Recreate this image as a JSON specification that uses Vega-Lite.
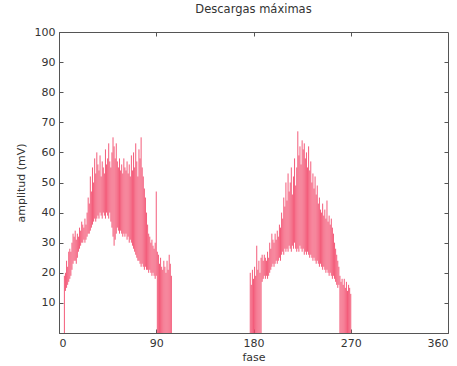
{
  "$schema": "https://vega.github.io/schema/vega-lite/v6.json",
  "width": 389,
  "height": 301,
  "autosize": {"type": "none"},
  "padding": {"left": 59, "top": 32, "right": 9, "bottom": 33},
  "background": "white",
  "title": {"text": "Descargas máximas", "fontSize": 11.5, "fontWeight": "normal", "font": "DejaVu Sans", "color": "#333", "offset": 11},
  "config": {
    "view": {"stroke": "#555", "strokeWidth": 1},
    "axis": {"grid": false, "domainColor": "#555", "tickColor": "#555", "labelColor": "#333", "titleColor": "#333", "labelFont": "DejaVu Sans", "titleFont": "DejaVu Sans", "labelFontSize": 11, "titleFontSize": 11, "titleFontWeight": "normal", "tickSize": -4}
  },
  "data": {"values": [
    {"p":5,"lo":0,"hi":19},{"p":6,"lo":14,"hi":20},{"p":7,"lo":15,"hi":24},{"p":8,"lo":16,"hi":22},{"p":9,"lo":17,"hi":27},{"p":10,"lo":18,"hi":28},
    {"p":11,"lo":19,"hi":27},{"p":12,"lo":21,"hi":30},{"p":13,"lo":23,"hi":33},{"p":14,"lo":24,"hi":32},{"p":15,"lo":24,"hi":34},{"p":16,"lo":23,"hi":31},
    {"p":17,"lo":25,"hi":33},{"p":18,"lo":27,"hi":32},{"p":19,"lo":28,"hi":35},{"p":20,"lo":29,"hi":34},{"p":21,"lo":30,"hi":37},{"p":22,"lo":30,"hi":36},
    {"p":23,"lo":31,"hi":35},{"p":24,"lo":30,"hi":38},{"p":25,"lo":31,"hi":36},{"p":26,"lo":32,"hi":40},{"p":27,"lo":33,"hi":45},{"p":28,"lo":33,"hi":43},
    {"p":29,"lo":34,"hi":52},{"p":30,"lo":35,"hi":47},{"p":31,"lo":36,"hi":55},{"p":32,"lo":37,"hi":50},{"p":33,"lo":38,"hi":58},{"p":34,"lo":37,"hi":53},
    {"p":35,"lo":38,"hi":60},{"p":36,"lo":39,"hi":56},{"p":37,"lo":38,"hi":54},{"p":38,"lo":40,"hi":59},{"p":39,"lo":39,"hi":52},{"p":40,"lo":38,"hi":57},
    {"p":41,"lo":40,"hi":55},{"p":42,"lo":39,"hi":53},{"p":43,"lo":38,"hi":61},{"p":44,"lo":40,"hi":56},{"p":45,"lo":39,"hi":58},{"p":46,"lo":38,"hi":63},
    {"p":47,"lo":40,"hi":57},{"p":48,"lo":37,"hi":55},{"p":49,"lo":35,"hi":60},{"p":50,"lo":32,"hi":65},{"p":51,"lo":29,"hi":62},{"p":52,"lo":31,"hi":58},
    {"p":53,"lo":33,"hi":63},{"p":54,"lo":35,"hi":57},{"p":55,"lo":34,"hi":55},{"p":56,"lo":33,"hi":58},{"p":57,"lo":34,"hi":54},{"p":58,"lo":33,"hi":56},
    {"p":59,"lo":32,"hi":53},{"p":60,"lo":33,"hi":58},{"p":61,"lo":32,"hi":55},{"p":62,"lo":33,"hi":54},{"p":63,"lo":31,"hi":57},{"p":64,"lo":32,"hi":53},
    {"p":65,"lo":30,"hi":56},{"p":66,"lo":31,"hi":52},{"p":67,"lo":30,"hi":59},{"p":68,"lo":29,"hi":54},{"p":69,"lo":28,"hi":60},{"p":70,"lo":27,"hi":55},
    {"p":71,"lo":26,"hi":63},{"p":72,"lo":25,"hi":57},{"p":73,"lo":24,"hi":52},{"p":74,"lo":24,"hi":61},{"p":75,"lo":23,"hi":58},{"p":76,"lo":22,"hi":65},
    {"p":77,"lo":23,"hi":55},{"p":78,"lo":22,"hi":52},{"p":79,"lo":21,"hi":48},{"p":80,"lo":22,"hi":45},{"p":81,"lo":21,"hi":40},{"p":82,"lo":21,"hi":36},
    {"p":83,"lo":20,"hi":33},{"p":84,"lo":21,"hi":32},{"p":85,"lo":20,"hi":30},{"p":86,"lo":19,"hi":31},{"p":87,"lo":20,"hi":29},{"p":88,"lo":19,"hi":28},
    {"p":89,"lo":18,"hi":30},{"p":90,"lo":19,"hi":47},{"p":91,"lo":0,"hi":27},{"p":92,"lo":0,"hi":26},{"p":93,"lo":0,"hi":23},{"p":94,"lo":0,"hi":25},
    {"p":95,"lo":0,"hi":22},{"p":96,"lo":0,"hi":21},{"p":97,"lo":0,"hi":24},{"p":98,"lo":0,"hi":22},{"p":99,"lo":0,"hi":20},{"p":100,"lo":0,"hi":24},
    {"p":101,"lo":0,"hi":21},{"p":102,"lo":0,"hi":26},{"p":103,"lo":0,"hi":23},{"p":104,"lo":0,"hi":19},
    {"p":177,"lo":0,"hi":20},{"p":178,"lo":0,"hi":16},{"p":179,"lo":0,"hi":21},{"p":180,"lo":0,"hi":18},{"p":181,"lo":0,"hi":22},{"p":182,"lo":0,"hi":19},
    {"p":183,"lo":0,"hi":29},{"p":184,"lo":0,"hi":21},{"p":185,"lo":0,"hi":24},{"p":186,"lo":0,"hi":20},{"p":187,"lo":0,"hi":25},{"p":188,"lo":17,"hi":26},
    {"p":189,"lo":18,"hi":24},{"p":190,"lo":19,"hi":26},{"p":191,"lo":18,"hi":25},{"p":192,"lo":19,"hi":24},{"p":193,"lo":18,"hi":27},{"p":194,"lo":19,"hi":25},
    {"p":195,"lo":20,"hi":30},{"p":196,"lo":21,"hi":28},{"p":197,"lo":22,"hi":33},{"p":198,"lo":23,"hi":31},{"p":199,"lo":22,"hi":30},{"p":200,"lo":23,"hi":33},
    {"p":201,"lo":24,"hi":31},{"p":202,"lo":23,"hi":34},{"p":203,"lo":24,"hi":32},{"p":204,"lo":25,"hi":36},{"p":205,"lo":24,"hi":35},{"p":206,"lo":26,"hi":40},
    {"p":207,"lo":27,"hi":38},{"p":208,"lo":26,"hi":45},{"p":209,"lo":28,"hi":42},{"p":210,"lo":27,"hi":50},{"p":211,"lo":28,"hi":44},{"p":212,"lo":27,"hi":53},
    {"p":213,"lo":29,"hi":47},{"p":214,"lo":28,"hi":50},{"p":215,"lo":27,"hi":55},{"p":216,"lo":29,"hi":46},{"p":217,"lo":28,"hi":52},{"p":218,"lo":30,"hi":58},
    {"p":219,"lo":28,"hi":49},{"p":220,"lo":27,"hi":55},{"p":221,"lo":28,"hi":67},{"p":222,"lo":27,"hi":59},{"p":223,"lo":29,"hi":62},{"p":224,"lo":28,"hi":56},
    {"p":225,"lo":27,"hi":64},{"p":226,"lo":28,"hi":61},{"p":227,"lo":26,"hi":63},{"p":228,"lo":27,"hi":58},{"p":229,"lo":26,"hi":60},{"p":230,"lo":27,"hi":55},
    {"p":231,"lo":26,"hi":62},{"p":232,"lo":25,"hi":54},{"p":233,"lo":26,"hi":57},{"p":234,"lo":25,"hi":50},{"p":235,"lo":24,"hi":53},{"p":236,"lo":25,"hi":48},
    {"p":237,"lo":24,"hi":52},{"p":238,"lo":23,"hi":46},{"p":239,"lo":24,"hi":49},{"p":240,"lo":23,"hi":43},{"p":241,"lo":22,"hi":45},{"p":242,"lo":23,"hi":41},
    {"p":243,"lo":22,"hi":40},{"p":244,"lo":21,"hi":43},{"p":245,"lo":22,"hi":39},{"p":246,"lo":21,"hi":41},{"p":247,"lo":20,"hi":38},{"p":248,"lo":21,"hi":44},
    {"p":249,"lo":20,"hi":37},{"p":250,"lo":19,"hi":39},{"p":251,"lo":20,"hi":36},{"p":252,"lo":19,"hi":38},{"p":253,"lo":18,"hi":35},{"p":254,"lo":19,"hi":33},
    {"p":255,"lo":18,"hi":30},{"p":256,"lo":17,"hi":28},{"p":257,"lo":16,"hi":26},{"p":258,"lo":15,"hi":24},{"p":259,"lo":16,"hi":22},{"p":260,"lo":0,"hi":19},
    {"p":261,"lo":0,"hi":17},{"p":262,"lo":0,"hi":18},{"p":263,"lo":0,"hi":16},{"p":264,"lo":0,"hi":18},{"p":265,"lo":0,"hi":15},{"p":266,"lo":0,"hi":17},
    {"p":267,"lo":0,"hi":14},{"p":268,"lo":0,"hi":16},{"p":269,"lo":0,"hi":15},{"p":270,"lo":0,"hi":13}
  ]},
  "layer": [
    {
      "mark": {"type": "rule", "color": "#f24a6c", "strokeWidth": 1, "opacity": 0.9},
      "encoding": {
        "x": {"field": "p", "type": "quantitative", "scale": {"domain": [0, 360], "nice": false, "zero": false},
              "axis": {"orient": "bottom", "values": [0, 90, 180, 270, 360], "title": "fase", "labelPadding": 8, "titlePadding": 3}},
        "y": {"field": "lo", "type": "quantitative", "scale": {"domain": [0, 100], "nice": false},
              "axis": {"orient": "left", "values": [10, 20, 30, 40, 50, 60, 70, 80, 90, 100], "title": "amplitud (mV)", "labelPadding": 8, "titlePadding": 8}},
        "y2": {"field": "hi"}
      }
    },
    {
      "mark": {"type": "rule", "opacity": 0},
      "encoding": {
        "x": {"field": "p", "type": "quantitative", "axis": {"orient": "top", "values": [90, 180, 270], "labels": false, "title": null, "domain": false}},
        "y": {"field": "lo", "type": "quantitative", "axis": {"orient": "right", "values": [10, 20, 30, 40, 50, 60, 70, 80, 90], "labels": false, "title": null, "domain": false}}
      }
    }
  ],
  "resolve": {"axis": {"x": "independent", "y": "independent"}}
}
